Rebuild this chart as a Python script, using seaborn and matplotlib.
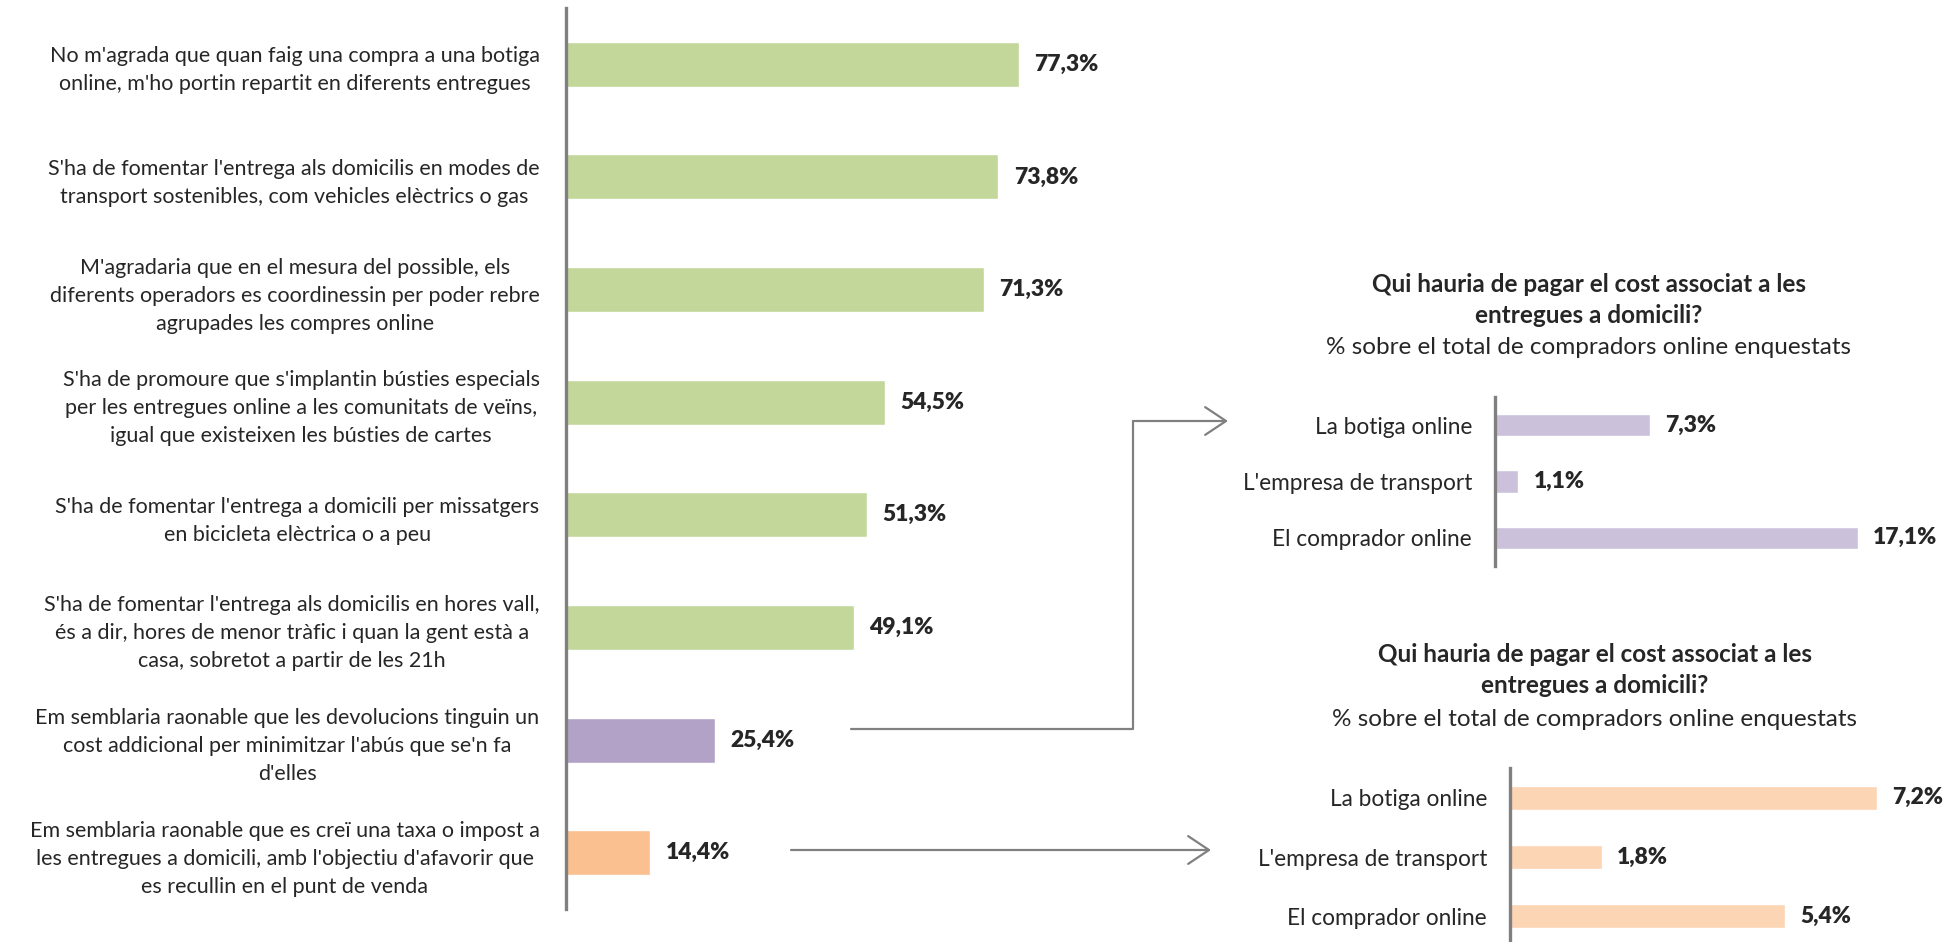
import pandas as pd
import matplotlib.pyplot as plt
import seaborn as sns
from matplotlib.patches import FancyArrowPatch
from matplotlib.lines import Line2D

# data
statements = [
    "No m'agrada que quan faig una compra a una botiga\nonline, m'ho portin repartit en diferents entregues",
    "S'ha de fomentar l'entrega als domicilis en modes de\ntransport sostenibles, com vehicles elèctrics o gas",
    "M'agradaria que en el mesura del possible, els\ndiferents operadors es coordinessin per poder rebre\nagrupades les compres online",
    "S'ha de promoure que s'implantin bústies especials\nper les entregues online a les comunitats de veïns,\nigual que existeixen les bústies de cartes",
    "S'ha de fomentar l'entrega a domicili per missatgers\nen bicicleta elèctrica o a peu",
    "S'ha de fomentar l'entrega als domicilis en hores vall,\nés a dir, hores de menor tràfic i quan la gent està a\ncasa, sobretot a partir de les 21h",
    "Em semblaria raonable que les devolucions tinguin un\ncost addicional per minimitzar l'abús que se'n fa\nd'elles",
    "Em semblaria raonable que es creï una taxa o impost a\nles entregues a domicili, amb l'objectiu d'afavorir que\nes recullin en el punt de venda",
]
agree_pct = [77.3, 73.8, 71.3, 54.5, 51.3, 49.1, 25.4, 14.4]
main_colors = ["#C4D79B"] * 6 + ["#B3A2C7", "#FAC090"]

payers = ["La botiga online", "L'empresa de transport", "El comprador online"]
returns_pct = [7.3, 1.1, 17.1]
tax_pct = [7.2, 1.8, 5.4]

title_txt = "Qui hauria de pagar el cost associat a les\nentregues a domicili?"
subtitle_txt = "% sobre el total de compradors online enquestats"

W, H = 1952, 942
sns.set_style("white")
plt.rcParams['font.family'] = ['Lato', 'DejaVu Sans']
fig = plt.figure(figsize=(W / 100, H / 100), dpi=100)


def px_axes(left, top, right, bottom):
    return fig.add_axes([left / W, 1 - bottom / H, (right - left) / W, (bottom - top) / H])


def fpt(x, y):
    return (x / W, 1 - y / H)


def draw_bars(ax, cats, vals, colors, xmax, pad, fs, lab_ls):
    df = pd.DataFrame({"cat": cats, "val": vals})
    sns.barplot(data=df, x="val", y="cat", hue="cat", palette=dict(zip(cats, colors)),
                orient="h", width=0.4, saturation=1, legend=False, ax=ax)
    ax.set_xlim(0, xmax)
    ax.set_ylim(len(cats) - 0.5, -0.5)
    ax.set_xlabel("")
    ax.set_ylabel("")
    ax.set_xticks([])
    for s in ["top", "right", "bottom"]:
        ax.spines[s].set_visible(False)
    ax.spines["left"].set_color("#808080")
    ax.spines["left"].set_linewidth(2.4)
    ax.tick_params(axis="y", length=0, pad=pad, labelsize=fs)
    for t in ax.get_yticklabels():
        t.set_multialignment("center")
        t.set_linespacing(lab_ls)
    for i, v in enumerate(vals):
        ax.annotate(f"{v:.1f}%".replace(".", ","), xy=(v, i), xytext=(11, 0),
                    textcoords="offset points", va="center", ha="left",
                    fontsize=16.5, fontweight="heavy")


# main chart
ax_main = px_axes(566, 8, 1100, 909)
draw_bars(ax_main, statements, agree_pct, main_colors, 534 / 5.86, 19, 15.5, 1.5)

# returns chart (purple)
ax_ret = px_axes(1495, 397, 1895, 566)
draw_bars(ax_ret, payers, returns_pct, ["#CCC1DA"] * 3, 400 / 21.2, 16.5, 16.3, 1.2)

# tax chart (orange)
ax_tax = px_axes(1510, 768, 1910, 946)
draw_bars(ax_tax, payers, tax_pct, ["#FCD5B5"] * 3, 400 / 51.0, 16.5, 16.3, 1.2)

# titles
for cx, ty, sy in [(1589, 300, 348), (1595, 670, 720)]:
    fig.text(*fpt(cx, ty), title_txt, ha="center", va="center", fontsize=17.5,
             fontweight="bold", linespacing=1.4)
    fig.text(*fpt(cx, sy), subtitle_txt, ha="center", va="center", fontsize=17.5)

# connector arrows
grey = "#808080"
fig.add_artist(Line2D([851 / W, 1133 / W, 1133 / W], [1 - 729 / H, 1 - 729 / H, 1 - 421 / H],
                      transform=fig.transFigure, color=grey, lw=1.6))
for start, end in [((1133, 421), (1228, 421)), ((791, 850), (1211, 850))]:
    fig.add_artist(FancyArrowPatch(fpt(*start), fpt(*end), transform=fig.transFigure,
                                   arrowstyle="->,head_length=0.6,head_width=0.4",
                                   mutation_scale=25, color=grey, lw=1.6,
                                   shrinkA=0, shrinkB=0))

fig.savefig("out.png", dpi=100, facecolor="white")
